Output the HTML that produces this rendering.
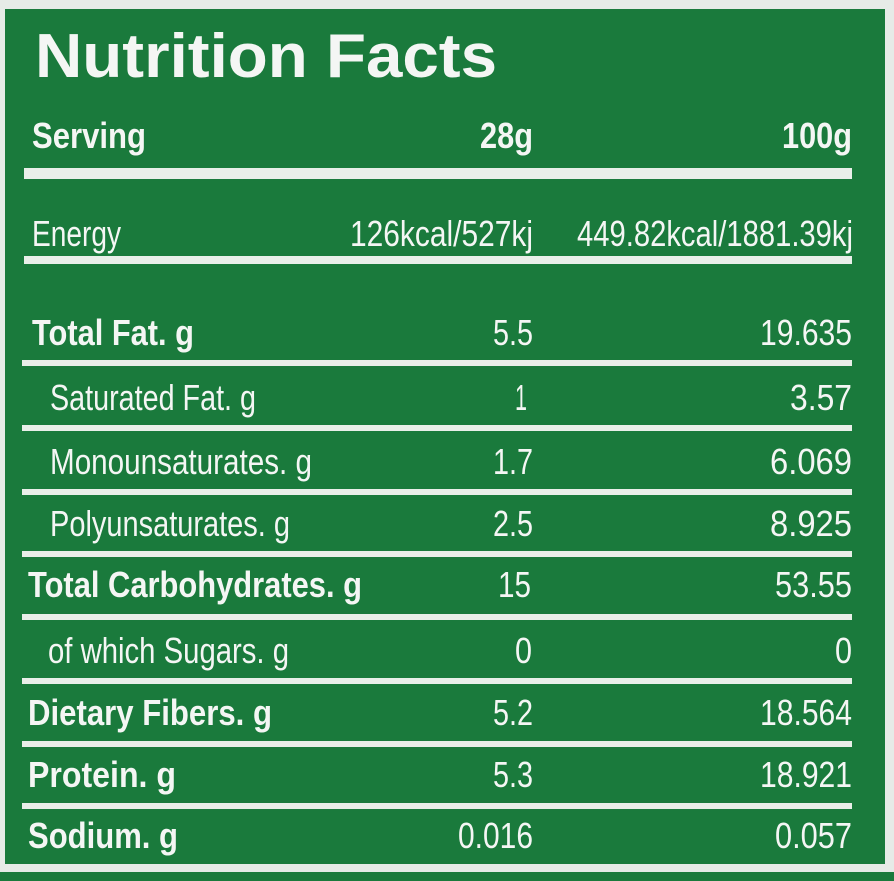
<!DOCTYPE html>
<html><head><meta charset="utf-8"><style>
html,body{margin:0;padding:0;background:#e9ece9;}
svg{display:block}
text{font-family:"Liberation Sans",sans-serif;fill:#f4f6f4}
.b{font-weight:bold}
</style></head><body>
<svg width="894" height="881" viewBox="0 0 894 881" xmlns="http://www.w3.org/2000/svg">
<rect x="0" y="0" width="894" height="881" fill="#e6ebe7"/>
<rect x="5" y="9" width="880" height="855" fill="#1a7a3c"/>
<rect x="0" y="872" width="894" height="9" fill="#1a7a3c"/>
<g fill="#e9efe9">
<rect x="24" y="168" width="828" height="11"/>
<rect x="24" y="256" width="828" height="8"/>
<rect x="22" y="360" width="830" height="6"/>
<rect x="22" y="425" width="830" height="6"/>
<rect x="22" y="489" width="830" height="6"/>
<rect x="22" y="551" width="830" height="6"/>
<rect x="22" y="614" width="830" height="6"/>
<rect x="22" y="678" width="830" height="6"/>
<rect x="22" y="741" width="830" height="6"/>
<rect x="22" y="803" width="830" height="6"/>
</g>
<text class="b" x="35" y="77" font-size="62" textLength="462" lengthAdjust="spacingAndGlyphs">Nutrition Facts</text>
<g font-size="36">
<text class="b" x="32" y="148" textLength="114" lengthAdjust="spacingAndGlyphs">Serving</text>
<text class="b" x="533" y="148" text-anchor="end" textLength="53" lengthAdjust="spacingAndGlyphs">28g</text>
<text class="b" x="852" y="148" text-anchor="end" textLength="70" lengthAdjust="spacingAndGlyphs">100g</text>

<text x="32" y="246" textLength="89" lengthAdjust="spacingAndGlyphs">Energy</text>
<text x="533" y="246" text-anchor="end" textLength="183" lengthAdjust="spacingAndGlyphs">126kcal/527kj</text>
<text x="853" y="246" text-anchor="end" textLength="276" lengthAdjust="spacingAndGlyphs">449.82kcal/1881.39kj</text>

<text class="b" x="32" y="345" textLength="162" lengthAdjust="spacingAndGlyphs">Total Fat. g</text>
<text x="533" y="345" text-anchor="end" textLength="40" lengthAdjust="spacingAndGlyphs">5.5</text>
<text x="852" y="345" text-anchor="end" textLength="92" lengthAdjust="spacingAndGlyphs">19.635</text>

<text x="50" y="410" textLength="206" lengthAdjust="spacingAndGlyphs">Saturated Fat. g</text>
<text x="527" y="410" text-anchor="end" textLength="12" lengthAdjust="spacingAndGlyphs">1</text>
<text x="852" y="410" text-anchor="end" textLength="62" lengthAdjust="spacingAndGlyphs">3.57</text>

<text x="50" y="474" textLength="262" lengthAdjust="spacingAndGlyphs">Monounsaturates. g</text>
<text x="533" y="474" text-anchor="end" textLength="40" lengthAdjust="spacingAndGlyphs">1.7</text>
<text x="852" y="474" text-anchor="end" textLength="82" lengthAdjust="spacingAndGlyphs">6.069</text>

<text x="50" y="536" textLength="240" lengthAdjust="spacingAndGlyphs">Polyunsaturates. g</text>
<text x="533" y="536" text-anchor="end" textLength="40" lengthAdjust="spacingAndGlyphs">2.5</text>
<text x="852" y="536" text-anchor="end" textLength="82" lengthAdjust="spacingAndGlyphs">8.925</text>

<text class="b" x="28" y="597" textLength="334" lengthAdjust="spacingAndGlyphs">Total Carbohydrates. g</text>
<text x="531" y="597" text-anchor="end" textLength="33" lengthAdjust="spacingAndGlyphs">15</text>
<text x="852" y="597" text-anchor="end" textLength="77" lengthAdjust="spacingAndGlyphs">53.55</text>

<text x="48" y="663" textLength="241" lengthAdjust="spacingAndGlyphs">of which Sugars. g</text>
<text x="532" y="663" text-anchor="end" textLength="17" lengthAdjust="spacingAndGlyphs">0</text>
<text x="852" y="663" text-anchor="end" textLength="17" lengthAdjust="spacingAndGlyphs">0</text>

<text class="b" x="28" y="725" textLength="244" lengthAdjust="spacingAndGlyphs">Dietary Fibers. g</text>
<text x="533" y="725" text-anchor="end" textLength="40" lengthAdjust="spacingAndGlyphs">5.2</text>
<text x="852" y="725" text-anchor="end" textLength="92" lengthAdjust="spacingAndGlyphs">18.564</text>

<text class="b" x="28" y="787" textLength="148" lengthAdjust="spacingAndGlyphs">Protein. g</text>
<text x="533" y="787" text-anchor="end" textLength="40" lengthAdjust="spacingAndGlyphs">5.3</text>
<text x="852" y="787" text-anchor="end" textLength="92" lengthAdjust="spacingAndGlyphs">18.921</text>

<text class="b" x="28" y="848" textLength="150" lengthAdjust="spacingAndGlyphs">Sodium. g</text>
<text x="533" y="848" text-anchor="end" textLength="75" lengthAdjust="spacingAndGlyphs">0.016</text>
<text x="852" y="848" text-anchor="end" textLength="77" lengthAdjust="spacingAndGlyphs">0.057</text>
</g>
</svg>
</body></html>
